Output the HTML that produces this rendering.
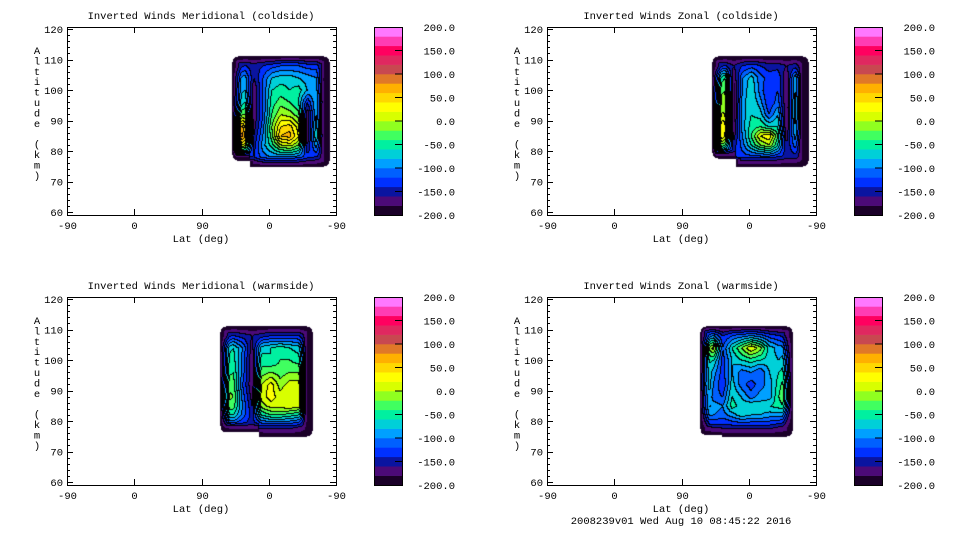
<!DOCTYPE html>
<html><head><meta charset="utf-8">
<style>
html,body{margin:0;padding:0;background:#fff;width:960px;height:540px;overflow:hidden}
#wrap{position:relative;width:960px;height:540px}
svg,canvas{position:absolute;left:0;top:0}
text{font-family:"Liberation Mono",monospace;font-size:10.5px;fill:#000}
</style></head><body>
<div id="wrap">
<svg id="ax" width="960" height="540"></svg>
<canvas id="cv" width="960" height="540"></canvas>
</div>
<script>
// ---- data ----
const bandColors=["#1a0028","#4b0a78","#0a14a0","#0030ff","#0060ff","#00a0ff","#00d0d8","#00f0a0","#40ff60","#90ff20","#d8ff00","#ffff00","#ffd800","#ffb000","#e07828","#c84850","#e02860","#ff0060","#ff3cb4","#ff78ff"];
const cbarLabels=["200.0","150.0","100.0","50.0","0.0","-50.0","-100.0","-150.0","-200.0"];
const cbarValues=[200,150,100,50,0,-50,-100,-150,-200];
const xTickLabels=["-90","0","90","0","-90"];
const yTickValues=[120,110,100,90,80,70,60];
const rowAlts=[108,104,100,96,92,88,85,82,78];
const titles=["Inverted Winds Meridional (coldside)","Inverted Winds Zonal (coldside)","Inverted Winds Meridional (warmside)","Inverted Winds Zonal (warmside)"];
const gridTL=[
[-150,-140,-150,-140,-130,-120,-120,-120,-130,-130,-170],
[-100,-90,-160,-120,-80,-70,-70,-80,-90,-100,-190],
[-90,-80,-180,-120,-60,-50,-60,-50,-80,-90,-190],
[-80,-60,-180,-120,-50,-30,-40,-60,-140,-80,-180],
[-30,-20,-180,-120,-40,0,-10,-30,-180,-80,-190],
[120,40,-170,-110,-20,40,50,10,-180,-70,-190],
[150,60,-160,-100,-30,60,70,20,-180,-60,-190],
[40,10,-150,-90,-50,0,10,-20,-160,-90,-190],
[-150,-150,-140,-110,-100,-100,-100,-110,-130,-140,-170]];
const gridTR=[
[-150,-140,-160,-140,-130,-140,-150,-150,-160,-150,-180],
[-60,-40,-180,-100,-70,-110,-130,-120,-180,-80,-200],
[-30,-20,-190,-100,-60,-110,-140,-120,-180,-80,-200],
[-20,-10,-190,-90,-60,-90,-140,-110,-180,-70,-200],
[10,0,-190,-90,-60,-70,-120,-80,-180,-70,-200],
[60,30,-180,-90,-50,-40,-60,-60,-180,-80,-200],
[80,20,-170,-100,-40,20,40,-40,-170,-90,-200],
[0,-40,-150,-110,-60,-20,0,-60,-160,-110,-200],
[-150,-150,-140,-130,-130,-130,-130,-140,-150,-150,-180]];
const gridBL=[
[-150,-140,-150,-160,-150,-140,-140,-140,-140,-170],
[-70,-60,-100,-170,-70,-60,-50,-60,-70,-180],
[-60,-50,-110,-180,-50,-60,-40,-40,-50,-180],
[-50,-40,-110,-180,-30,-20,-30,-20,-20,-190],
[-20,-30,-120,-180,0,30,-10,10,10,-190],
[-10,-20,-110,-170,10,30,10,20,20,-190],
[-20,-30,-100,-160,-10,10,10,20,10,-190],
[-60,-60,-110,-150,-60,-40,-40,-50,-60,-190],
[-160,-150,-150,-150,-150,-150,-150,-150,-160,-180]];
const gridBR=[
[-120,-100,-140,-120,-110,-100,-110,-130,-140,-150],
[-40,10,-120,-60,-20,20,-10,-70,-90,-100],
[-50,-60,-130,-80,-60,-50,-60,-70,-80,-60],
[-40,-90,-130,-80,-110,-100,-120,-80,-60,-40],
[-30,-100,-140,-70,-110,-130,-110,-90,-50,-10],
[-50,-110,-120,-60,-80,-110,-90,-90,-40,0],
[-60,-90,-100,-50,-70,-60,-70,-60,-50,-30],
[-90,-100,-110,-90,-70,-80,-80,-90,-90,-100],
[-160,-150,-150,-150,-150,-150,-150,-150,-160,-170]];
// data extents in x-axis position units (0..4 = tick index), step position and step altitude
const extents=[[2.46,3.90,2.72,77],[2.46,3.88,2.80,77.7],[2.27,3.64,2.85,76.4],[2.27,3.64,2.60,75.5]];
const grids=[gridTL,gridTR,gridBL,gridBR];

// ---- layout ----
const NS="http://www.w3.org/2000/svg";
const svg=document.getElementById('ax');
const offs=[[0,0],[480,0],[0,270],[480,270]];
const BX0=67,BX1=336,BY0=27,BY1=215;
function xPos(p,dx){return dx+BX0+p*(BX1-BX0)/4;}
function yAlt(a,dy){return dy+29+(120-a)*(183/60);}
function mk(tag,attrs,parent){const e=document.createElementNS(NS,tag);for(const k in attrs)e.setAttribute(k,attrs[k]);(parent||svg).appendChild(e);return e;}

offs.forEach((o,pi)=>{
  const [dx,dy]=o;
  const g=mk('g',{});
  
  
  const t=mk('text',{x:dx+201,y:dy+19,'text-anchor':'middle'},g);t.textContent=titles[pi];
  
  const box=mk('rect',{x:dx+BX0+.5,y:dy+BY0+.5,width:BX1-BX0,height:BY1-BY0,fill:'none',stroke:'#000','stroke-width':1},g);
  
  for(let a=60;a<=120;a+=2){const y=Math.round(yAlt(a,dy))+.5;const L=(a%10===0)?6:3;
    mk('line',{x1:dx+BX0,x2:dx+BX0+L,y1:y,y2:y,stroke:'#000'},g);
    mk('line',{x1:dx+BX1-L,x2:dx+BX1,y1:y,y2:y,stroke:'#000'},g);}
  yTickValues.forEach(v=>{const tt=mk('text',{x:dx+63,y:yAlt(v,dy)+4,'text-anchor':'end'},g);tt.textContent=v;
    });
  xTickLabels.forEach((lb,i)=>{const x=Math.round(xPos(i,dx))+.5;
    mk('line',{x1:x,x2:x,y1:dy+BY1-6,y2:dy+BY1,stroke:'#000'},g);
    mk('line',{x1:x,x2:x,y1:dy+BY0,y2:dy+BY0+6,stroke:'#000'},g);
    const tt=mk('text',{x:x,y:dy+229,'text-anchor':'middle'},g);tt.textContent=lb;
    });
  const xl=mk('text',{x:dx+201,y:dy+242,'text-anchor':'middle'},g);xl.textContent='Lat (deg)';
  
  const yl=mk('text',{x:dx+37,'text-anchor':'middle'},g);
  
  'Altitude (km)'.split('').forEach((c,i)=>{const ts=mk('tspan',{x:dx+37,y:dy+54+i*10.4},yl);ts.textContent=c;});
  const cb=mk('g',{},g);
  const cx0=dx+374,cw=28,ch=(BY1-BY0)/20;
  bandColors.forEach((c,i)=>{mk('rect',{x:cx0,y:dy+BY1-(i+1)*ch,width:cw,height:ch+.3,fill:c},cb);});
  mk('rect',{x:cx0+.5,y:dy+BY0+.5,width:cw,height:BY1-BY0,fill:'none',stroke:'#000'},cb);
  cbarValues.forEach((v,i)=>{const y=dy+BY0+(200-v)/400*(BY1-BY0);
    if(i>0&&i<8)mk('line',{x1:cx0+cw-7,x2:cx0+cw,y1:y,y2:y,stroke:'#000'},cb);
    const tt=mk('text',{x:dx+455,y:y+4,'text-anchor':'end'},cb);tt.textContent=cbarLabels[i];
    });
});
const ft=mk('text',{x:681,y:524,'text-anchor':'middle'});ft.textContent='2008239v01 Wed Aug 10 08:45:22 2016';


// ---- contour fill ----
const cv=document.getElementById('cv'),ctx=cv.getContext('2d');
const img=ctx.createImageData(960,540);
function hex(c){return [parseInt(c.substr(1,2),16),parseInt(c.substr(3,2),16),parseInt(c.substr(5,2),16)];}
const rgb=bandColors.map(hex);
const FALL=10;
offs.forEach((o,pi)=>{
  const [dx,dy]=o;const grid=grids[pi];const [p0,p1,ps,altStep]=extents[pi];
  const nr=grid.length,nc=grid[0].length;
  const X0=Math.round(xPos(p0,dx)),X1=Math.round(xPos(p1,dx)),XS=xPos(ps,dx);
  const Y0=Math.round(yAlt(111,dy)),Y1=Math.round(yAlt(75,dy)),YS=yAlt(altStep,dy);
  const W=X1-X0+1,H=Y1-Y0+1;const band=new Int16Array(W*H).fill(-1);
  const rowY=rowAlts.map(a=>yAlt(a,dy));
  const cxA=X0+4,cxB=X1-4;
  for(let j=0;j<H;j++){const y=Y0+j;
    let r=0;while(r<nr-2&&rowY[r+1]<y)r++;
    const fy=Math.min(1,Math.max(0,(y-rowY[r])/(rowY[r+1]-rowY[r])));
    for(let i=0;i<W;i++){const x=X0+i;
      if(x<XS&&y>YS)continue;
      const yb=(x<XS)?YS:Y1;
      const rr=6;let cxr=null,cyr=null;
      if(x<X0+rr&&y<Y0+rr){cxr=X0+rr;cyr=Y0+rr;}else if(x>X1-rr&&y<Y0+rr){cxr=X1-rr;cyr=Y0+rr;}
      else if(x<X0+rr&&y>yb-rr){cxr=X0+rr;cyr=yb-rr;}else if(x>X1-rr&&y>Y1-rr){cxr=X1-rr;cyr=Y1-rr;}
      let d;
      if(cxr!==null){const dd=Math.hypot(x-cxr,y-cyr);if(dd>rr)continue;d=rr-dd;}
      else{d=Math.min(x-X0,X1-x,y-Y0,yb-y);if(x>=XS&&y>YS)d=Math.min(d,x-XS);}
      const gx=Math.min(nc-1.0001,Math.max(0,(x-cxA)/(cxB-cxA)*(nc-1)));const c=Math.floor(gx);const fx=gx-c;
      let v=(grid[r][c]*(1-fx)+grid[r][c+1]*fx)*(1-fy)+(grid[r+1][c]*(1-fx)+grid[r+1][c+1]*fx)*fy;
      v=-200+(v+200)*Math.min(1,(d+0.5)/FALL);
      band[j*W+i]=Math.max(0,Math.min(19,Math.floor((v+200)/20)));}}
  for(let j=0;j<H;j++)for(let i=0;i<W;i++){const b=band[j*W+i];if(b<0)continue;
    let col=rgb[b];
    const br=i<W-1?band[j*W+i+1]:b, bd=j<H-1?band[(j+1)*W+i]:b;
    if(b>=1&&((br>=1&&br!==b)||(bd>=1&&bd!==b)))col=[0,0,0];
    const k=((Y0+j)*960+(X0+i))*4;img.data[k]=col[0];img.data[k+1]=col[1];img.data[k+2]=col[2];img.data[k+3]=255;}
});
ctx.putImageData(img,0,0);
</script>
</body></html>
